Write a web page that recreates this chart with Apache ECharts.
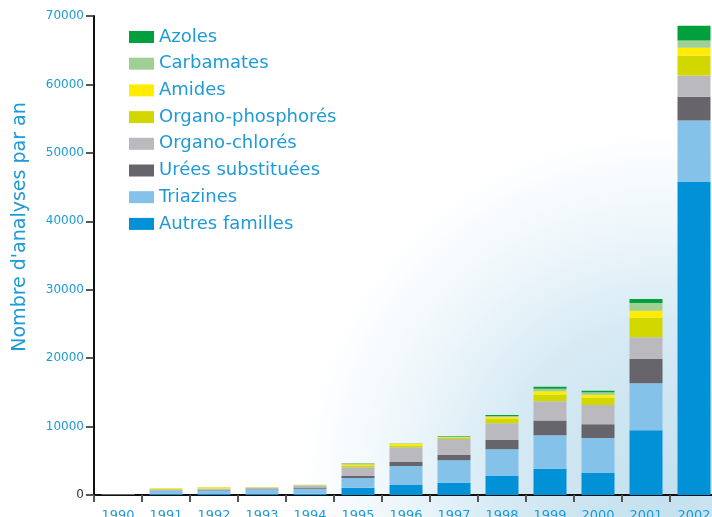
<!DOCTYPE html>
<html>
<head>
<meta charset="utf-8">
<script src="https://cdn.jsdelivr.net/npm/echarts@6/dist/echarts.min.js"></script>
<style>
html,body{margin:0;padding:0;background:#fff;}
#chart{width:712px;height:517px;}
</style>
</head>
<body>
<div id="chart"></div>
<script>
var years = ['1990','1991','1992','1993','1994','1995','1996','1997','1998','1999','2000','2001','2002'];
var autres = [0, 100, 150, 100, 200, 1070, 1460, 1800, 2780, 3850, 3260, 9460, 45800];
var triazines = [0, 550, 500, 650, 700, 1420, 2780, 3280, 3900, 4880, 5070, 6870, 8920];
var urees = [0, 50, 100, 80, 200, 290, 590, 780, 1360, 2140, 2000, 3550, 3470];
var organoChlores = [60, 150, 150, 200, 250, 1270, 2150, 2340, 2440, 2840, 2820, 3170, 3110];
var organoPhosphores = [0, 80, 100, 50, 80, 200, 250, 150, 630, 970, 1070, 2870, 2920];
var amides = [0, 80, 120, 0, 0, 180, 300, 100, 250, 500, 440, 1020, 1130];
var carbamates = [0, 30, 50, 50, 50, 250, 80, 110, 190, 340, 350, 1130, 1070];
var azoles = [0, 0, 0, 0, 0, 0, 0, 80, 150, 290, 230, 590, 2150];
var yTicks = [0, 10000, 20000, 30000, 40000, 50000, 60000, 70000];

var names = ['Autres familles','Triazines','Urées substituées','Organo-chlorés','Organo-phosphorés','Amides','Carbamates','Azoles'];
var colors = ['#0091d6','#84c2ea','#67646b','#bab9be','#d2d700','#ffec00','#9fcf93','#00a03c'];
var datas = [autres, triazines, urees, organoChlores, organoPhosphores, amides, carbamates, azoles];

var BLUE = '#1e9ad6';
var FONT = 'DejaVu Sans';

var series = names.map(function(n, i){
  return {
    name: n, type: 'bar', stack: 'total', data: datas[i], barWidth: 33,
    itemStyle: {color: colors[i]}, emphasis: {disabled: true}
  };
});

var chart = echarts.init(document.getElementById('chart'), null, {renderer: 'canvas'});
chart.setOption({
  animation: false,
  backgroundColor: {
    type: 'radial', x: 0.93, y: 0.95, r: 0.7,
    colorStops: [
      {offset: 0, color: '#c4e0ee'},
      {offset: 0.45, color: '#d6eaf4'},
      {offset: 0.75, color: '#eff7fb'},
      {offset: 1, color: '#ffffff'}
    ]
  },
  grid: {left: 94, right: -6, top: 16, bottom: 22, containLabel: false, outerBoundsMode: 'none'},
  legend: {
    data: names.slice().reverse(),
    orient: 'vertical', left: 129, top: 28, padding: 0,
    itemWidth: 25, itemHeight: 12, itemGap: 8.7,
    icon: 'rect',
    textStyle: {color: BLUE, fontSize: 18, fontFamily: FONT, lineHeight: 18, padding: [0,0,0,0]},
    selectedMode: false
  },
  xAxis: {
    type: 'category', data: years,
    axisLine: {lineStyle: {color: '#111', width: 2}},
    axisTick: {show: true, length: 7, lineStyle: {color: '#555', width: 2}},
    axisLabel: {color: BLUE, fontSize: 13, fontFamily: FONT, margin: 14, hideOverlap: false}
  },
  yAxis: {
    type: 'value', min: 0, max: 70000, interval: 10000,
    axisLine: {show: true, lineStyle: {color: '#111', width: 2}},
    axisTick: {show: true, length: 8, lineStyle: {color: '#222', width: 1.5}},
    splitLine: {show: false},
    axisLabel: {
      fontSize: 12, fontFamily: FONT, margin: 10,
      color: function(v){ return (+v === 0) ? '#333' : BLUE; },
      formatter: function(v){ return String(v); }
    }
  },
  graphic: [{
    type: 'text', x: 20, y: 227, rotation: Math.PI / 2,
    style: {
      text: "Nombre d'analyses par an",
      fill: BLUE, font: '19px "DejaVu Sans"',
      textAlign: 'center', textVerticalAlign: 'middle',
      align: 'center', verticalAlign: 'middle'
    }
  }],
  series: series
});
</script>
</body>
</html>
